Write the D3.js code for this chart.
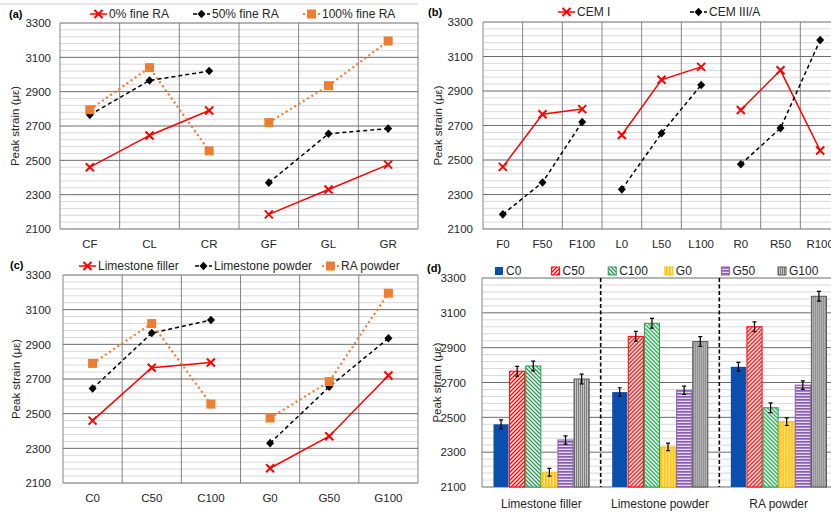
<!DOCTYPE html>
<html>
<head>
<meta charset="utf-8">
<script src="https://cdn.jsdelivr.net/npm/d3@7"></script>
<style>
  body { margin: 0; background: #fff; }
  svg { display: block; font-family: "Liberation Sans", Arial, sans-serif; }
</style>
</head>
<body>
<svg id="chart"></svg>
<script>
const W = 831, H = 514;

// (a)
const catsA = ["CF", "CL", "CR", "GF", "GL", "GR"];
const fineRA0 = [2460, 2645, 2790, 2185, 2330, 2475];
const fineRA50 = [2765, 2965, 3020, 2370, 2655, 2685];
const fineRA100 = [2795, 3040, 2555, 2720, 2935, 3195];

// (b)
const catsB = ["F0", "F50", "F100", "L0", "L50", "L100", "R0", "R50", "R100"];
const cemI = [2460, 2765, 2795, 2645, 2965, 3040, 2790, 3020, 2555];
const cemIIIA = [2185, 2370, 2720, 2330, 2655, 2935, 2475, 2685, 3195];

// (c)
const catsC = ["C0", "C50", "C100", "G0", "G50", "G100"];
const limeFiller = [2460, 2765, 2795, 2185, 2370, 2720];
const limePowder = [2645, 2965, 3040, 2330, 2655, 2935];
const raPowder = [2790, 3020, 2555, 2475, 2685, 3195];

// (d)
const groupsD = ["Limestone filler", "Limestone powder", "RA powder"];
const errD = [25, 28, 28, 22, 24, 28];

const majorTicks = d3.range(2100, 3301, 200);
const minorTicks = d3.range(2100, 3301, 40).filter(v => (v - 2100) % 200 !== 0);

const svg = d3.select("#chart").attr("width", W).attr("height", H);
const defs = svg.append("defs");

const RED = "#ff0000", ORANGE = "#ED7D31", TXT = "#262626";
const FS = 11.5;

// top rule
svg.append("line").attr("x1", 0).attr("x2", 418).attr("y1", 4).attr("y2", 4)
  .attr("stroke", "#d0d0d0");

// ---------- patterns for (d)
function stripePattern(id, size, bg, draw) {
  const p = defs.append("pattern").attr("id", id)
    .attr("patternUnits", "userSpaceOnUse").attr("width", size).attr("height", size);
  p.append("rect").attr("width", size).attr("height", size).attr("fill", bg);
  draw(p);
}
stripePattern("pC50", 4, "#fff", p => p.append("path")
  .attr("d", "M-1,1L1,-1M0,4L4,0M3,5L5,3").attr("stroke", RED).attr("stroke-width", 1.3));
stripePattern("pC100", 4, "#fff", p => p.append("path")
  .attr("d", "M-1,3L1,5M0,0L4,4M3,-1L5,1").attr("stroke", "#21a04a").attr("stroke-width", 1.3));
stripePattern("pG0", 3, "#ffe699", p => p.append("rect")
  .attr("width", 1.6).attr("height", 3).attr("fill", "#ffc000"));
stripePattern("pG50", 3, "#e4d7ef", p => p.append("rect")
  .attr("width", 3).attr("height", 1.7).attr("fill", "#8a5fb0"));
stripePattern("pG100", 2, "#c8c8c8", p => p.append("rect")
  .attr("width", 1).attr("height", 2).attr("fill", "#7a7a7a"));

const barStyle = {
  C0: { fill: "#0a4fad", stroke: "none" },
  C50: { fill: "url(#pC50)", stroke: RED },
  C100: { fill: "url(#pC100)", stroke: "#21a04a" },
  G0: { fill: "url(#pG0)", stroke: "#ffc000" },
  G50: { fill: "url(#pG50)", stroke: "#8a5fb0" },
  G100: { fill: "url(#pG100)", stroke: "#595959" }
};

// ---------- shared helpers
function grid(g, o, y) {
  g.selectAll(".minor").data(minorTicks).join("line")
    .attr("x1", o.left).attr("x2", o.right)
    .attr("y1", d => y(d)).attr("y2", d => y(d))
    .attr("stroke", "#d9d9d9").attr("stroke-width", 1);
}

function majors(g, o, y) {
  g.selectAll(".major").data(majorTicks).join("line")
    .attr("x1", o.left).attr("x2", o.right)
    .attr("y1", d => y(d)).attr("y2", d => y(d))
    .attr("stroke", "#6b6b6b").attr("stroke-width", 1);
}

function yAxis(g, o, y) {
  g.append("g").attr("transform", `translate(${o.left},0)`)
    .call(d3.axisLeft(y).tickValues(majorTicks).tickFormat(d3.format("d"))
      .tickSize(0).tickPadding(o.pad))
    .call(a => a.select(".domain").remove())
    .selectAll("text").attr("font-size", FS).attr("fill", TXT)
    .attr("font-family", "Liberation Sans, Arial, sans-serif");
  g.append("text")
    .attr("transform", `translate(${o.ylabX},${(o.top + o.bottom) / 2}) rotate(-90)`)
    .attr("text-anchor", "middle").attr("font-size", FS).attr("fill", TXT)
    .text("Peak strain (με)");
  g.append("text").attr("x", o.tagX).attr("y", o.tagY)
    .attr("font-size", 11).attr("font-weight", "bold").attr("fill", "#000")
    .text(o.tag);
}

function marker(sel, kind) {
  if (kind === "cross") {
    sel.append("path").attr("d", "M-4,-4L4,4M-4,4L4,-4")
      .attr("stroke", RED).attr("stroke-width", 2).attr("fill", "none");
  } else if (kind === "diamond") {
    sel.append("path").attr("d", "M0,-4.3L4,0L0,4.3L-4,0Z").attr("fill", "#000");
  } else {
    sel.append("rect").attr("x", -4.5).attr("y", -4.5).attr("width", 9).attr("height", 9)
      .attr("fill", ORANGE);
  }
}

const lineStyle = {
  cross: { stroke: RED, width: 1.5, dash: null },
  diamond: { stroke: "#000", width: 1.5, dash: "4,3" },
  square: { stroke: ORANGE, width: 2.2, dash: "2,3" }
};

// ---------- line panels
function drawLinePanel(o) {
  const g = svg.append("g");
  const x = d3.scaleBand().domain(o.cats).range([o.left, o.right]);
  const y = d3.scaleLinear().domain([2100, 3300]).range([o.bottom, o.top]);

  grid(g, o, y);
  const bounds = o.cats.map(c => x(c)).concat([o.right]);
  g.selectAll(".vline").data(bounds).join("line")
    .attr("x1", d => d).attr("x2", d => d)
    .attr("y1", o.top).attr("y2", o.bottom)
    .attr("stroke", "#858585").attr("stroke-width", 1);
  majors(g, o, y);
  yAxis(g, o, y);

  g.append("g").attr("transform", `translate(0,${o.bottom + 11})`)
    .call(d3.axisBottom(x).tickSize(0).tickPadding(0))
    .call(a => a.select(".domain").remove())
    .selectAll("text").attr("font-size", FS).attr("fill", TXT)
    .attr("font-family", "Liberation Sans, Arial, sans-serif");

  const line = d3.line().x(d => x(d.c) + x.bandwidth() / 2).y(d => y(d.v));

  o.series.forEach(s => {
    const pts = o.cats.map((c, i) => ({ c, v: s.values[i] }));
    const st = lineStyle[s.kind];
    for (let i = 0; i < pts.length; i += o.chunk) {
      g.append("path").datum(pts.slice(i, i + o.chunk)).attr("d", line)
        .attr("fill", "none").attr("stroke", st.stroke).attr("stroke-width", st.width)
        .attr("stroke-dasharray", st.dash);
    }
    pts.forEach(p => {
      marker(g.append("g").attr("transform",
        `translate(${x(p.c) + x.bandwidth() / 2},${y(p.v)})`), s.kind);
    });
  });

  // legend
  o.series.forEach((s, i) => {
    const lx = o.legendX[i], ly = o.legendY;
    const st = lineStyle[s.kind];
    const lg = g.append("g");
    lg.append("line").attr("x1", lx).attr("x2", lx + 17).attr("y1", ly).attr("y2", ly)
      .attr("stroke", st.stroke).attr("stroke-width", st.width).attr("stroke-dasharray", st.dash);
    marker(lg.append("g").attr("transform", `translate(${lx + 8.5},${ly})`), s.kind);
    lg.append("text").attr("x", lx + 19).attr("y", ly + 4)
      .attr("font-size", FS + 0.5).attr("fill", TXT).text(s.name);
  });
}

drawLinePanel({
  tag: "(a)", tagX: 9, tagY: 18,
  left: 60, right: 418, top: 23, bottom: 229, pad: 9, ylabX: 19,
  cats: catsA, chunk: 3, legendY: 14, legendX: [90, 193, 303],
  series: [
    { name: "0% fine RA", values: fineRA0, kind: "cross" },
    { name: "50% fine RA", values: fineRA50, kind: "diamond" },
    { name: "100% fine RA", values: fineRA100, kind: "square" }
  ]
});

drawLinePanel({
  tag: "(b)", tagX: 428, tagY: 16,
  left: 483, right: 840, top: 22, bottom: 229, pad: 10, ylabX: 442,
  cats: catsB, chunk: 3, legendY: 12, legendX: [558, 690],
  series: [
    { name: "CEM I", values: cemI, kind: "cross" },
    { name: "CEM III/A", values: cemIIIA, kind: "diamond" }
  ]
});

drawLinePanel({
  tag: "(c)", tagX: 10, tagY: 269,
  left: 63, right: 418, top: 275, bottom: 483, pad: 12, ylabX: 20,
  cats: catsC, chunk: 3, legendY: 266, legendX: [79, 195, 322],
  series: [
    { name: "Limestone filler", values: limeFiller, kind: "cross" },
    { name: "Limestone powder", values: limePowder, kind: "diamond" },
    { name: "RA powder", values: raPowder, kind: "square" }
  ]
});

// ---------- bar panel (d)
(function () {
  const o = {
    tag: "(d)", tagX: 427, tagY: 272,
    left: 482, right: 838, top: 278, bottom: 487, pad: 16, ylabX: 441
  };
  const byGroup = [limeFiller, limePowder, raPowder];
  const g = svg.append("g");
  const xg = d3.scaleBand().domain(groupsD).range([o.left, o.right]);
  const xs = d3.scaleBand().domain(catsC).range([11, xg.bandwidth() - 11]);
  const y = d3.scaleLinear().domain([2100, 3300]).range([o.bottom, o.top]);

  grid(g, o, y);
  majors(g, o, y);
  g.append("line").attr("x1", o.left).attr("x2", o.left).attr("y1", o.top).attr("y2", o.bottom)
    .attr("stroke", "#858585");
  yAxis(g, o, y);

  groupsD.forEach((grp, gi) => {
    const gg = g.append("g").attr("transform", `translate(${xg(grp)},0)`);
    catsC.forEach((s, si) => {
      const v = byGroup[gi][si], st = barStyle[s];
      gg.append("rect")
        .attr("x", xs(s) + 0.5).attr("width", xs.bandwidth() - 1)
        .attr("y", y(v)).attr("height", y(2100) - y(v))
        .attr("fill", st.fill).attr("stroke", st.stroke).attr("stroke-width", 1);
      const cx = xs(s) + xs.bandwidth() / 2, e = errD[si];
      gg.append("path")
        .attr("d", `M${cx},${y(v - e)}V${y(v + e)}M${cx - 2},${y(v - e)}H${cx + 2}M${cx - 2},${y(v + e)}H${cx + 2}`)
        .attr("stroke", "#000").attr("stroke-width", 1.2).attr("fill", "none");
    });
  });

  g.selectAll(".sep").data(groupsD.slice(1)).join("line")
    .attr("x1", d => xg(d)).attr("x2", d => xg(d))
    .attr("y1", o.top).attr("y2", o.bottom)
    .attr("stroke", "#000").attr("stroke-width", 1.6).attr("stroke-dasharray", "4,2.5");

  g.append("g").attr("transform", `translate(0,${o.bottom + 12})`)
    .call(d3.axisBottom(xg).tickSize(0).tickPadding(0))
    .call(a => a.select(".domain").remove())
    .selectAll("text").attr("font-size", FS + 0.5).attr("fill", TXT)
    .attr("font-family", "Liberation Sans, Arial, sans-serif");

  // legend
  const lx = d3.scalePoint().domain(catsC).range([495, 778]);
  catsC.forEach(s => {
    const st = barStyle[s];
    g.append("rect").attr("x", lx(s)).attr("y", 267).attr("width", 8).attr("height", 8)
      .attr("fill", st.fill).attr("stroke", st.stroke === "none" ? null : st.stroke);
    g.append("text").attr("x", lx(s) + 11).attr("y", 275)
      .attr("font-size", FS + 0.5).attr("fill", TXT).text(s);
  });
})();
</script>
</body>
</html>
